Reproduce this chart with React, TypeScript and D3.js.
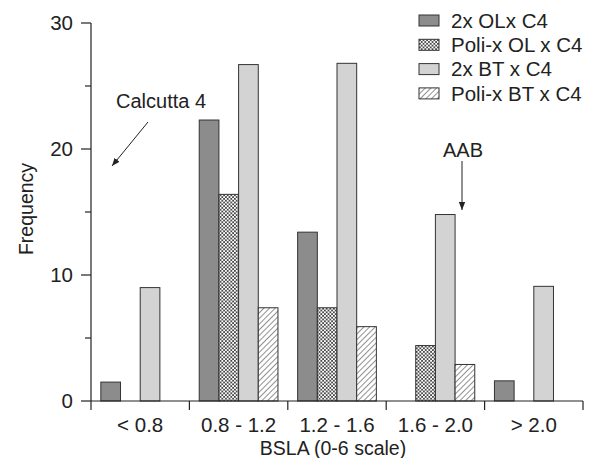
import React from 'react';
import * as d3 from 'd3';

// BSLA classes on the x axis
const categories = ['< 0.8', '0.8 - 1.2', '1.2 - 1.6', '1.6 - 2.0', '> 2.0'];
const seriesNames = ['2x OLx C4', 'Poli-x OL x C4', '2x BT x C4', 'Poli-x BT x C4'];

// frequencies, one array per cross
const olDiploid = [1.5, 22.3, 13.4, 0, 1.6];
const olPoly = [0, 16.4, 7.4, 4.4, 0];
const btDiploid = [9.0, 26.7, 26.8, 14.8, 9.1];
const btPoly = [0, 7.4, 5.9, 2.9, 0];

const yTicks = [0, 10, 20, 30];
const yMinor = [5, 15, 25];

const fills = ['#8c8c8c', 'url(#checks)', '#d3d3d3', 'url(#hatch)'];
const font = '"Liberation Sans", Arial, Helvetica, sans-serif';

export default function App() {
  const width = 593;
  const height = 458;
  const left = 91;
  const right = 583;
  const top = 23;
  const bottom = 401;

  const series = [olDiploid, olPoly, btDiploid, btPoly];

  const x = d3.scaleBand().domain(categories).range([left, right]);
  const inner = d3.scaleBand().domain(seriesNames.map((d, i) => String(i)))
    .range([0, x.bandwidth()]).paddingOuter(0.5).paddingInner(0);
  const y = d3.scaleLinear().domain([0, 30]).range([bottom, top]);

  const tickEdges = categories.map(c => x(c)).concat([right]);

  return (
    <svg width={width} height={height} style={{ position: 'absolute', left: 0, top: 0, background: '#fff' }}>
      <defs>
        <pattern id="checks" width="3.6" height="3.6" patternUnits="userSpaceOnUse">
          <rect width="3.6" height="3.6" fill="#fff" />
          <rect width="1.8" height="1.8" fill="#4a4a4a" />
          <rect x="1.8" y="1.8" width="1.8" height="1.8" fill="#4a4a4a" />
        </pattern>
        <pattern id="hatch" width="4" height="4" patternUnits="userSpaceOnUse" patternTransform="rotate(45)">
          <rect width="4" height="4" fill="#fff" />
          <line x1="0" y1="0" x2="0" y2="4" stroke="#555" strokeWidth="1.3" />
        </pattern>
        <marker id="arrow" viewBox="0 0 10 10" refX="10" refY="5" markerWidth="8" markerHeight="8" orient="auto-start-reverse">
          <path d="M0,1 L10,5 L0,9 Z" fill="#222" />
        </marker>
      </defs>

      {/* bars */}
      {categories.map((c, ci) => (
        <g key={c}>
          {series.map((s, si) => {
            const v = s[ci];
            const bx = x(c) + inner(String(si));
            return (
              <rect key={si} x={bx} y={y(v)} width={inner.bandwidth()} height={bottom - y(v)}
                fill={fills[si]} stroke="#333" strokeWidth={v > 0 ? 1 : 0.6} />
            );
          })}
        </g>
      ))}

      {/* y axis */}
      <line x1={left} x2={left} y1={top} y2={bottom} stroke="#222" strokeWidth={1.2} />
      {yTicks.map(t => (
        <g key={t}>
          <line x1={left - 10} x2={left} y1={y(t)} y2={y(t)} stroke="#222" strokeWidth={1.2} />
          <text x={left - 18} y={y(t)} dy="0.36em" textAnchor="end" fontFamily={font} fontSize={20.5} fill="#222">{t}</text>
        </g>
      ))}
      {yMinor.map(t => (
        <line key={t} x1={left - 6} x2={left} y1={y(t)} y2={y(t)} stroke="#222" strokeWidth={1.2} />
      ))}

      {/* x axis */}
      <line x1={left} x2={right} y1={bottom} y2={bottom} stroke="#222" strokeWidth={1.2} />
      {tickEdges.map((t, i) => (
        <line key={i} x1={t} x2={t} y1={bottom} y2={bottom + 9} stroke="#222" strokeWidth={1.2} />
      ))}
      {categories.map(c => (
        <text key={c} x={x(c) + x.bandwidth() / 2} y={432} textAnchor="middle" fontFamily={font} fontSize={20.5} fill="#222">{c}</text>
      ))}

      <text x={333} y={455} textAnchor="middle" fontFamily={font} fontSize={19.5} fill="#222">BSLA (0-6 scale)</text>
      <text transform="translate(33,209) rotate(-90)" textAnchor="middle" fontFamily={font} fontSize={19.5} fill="#222">Frequency</text>

      {/* legend */}
      {seriesNames.map((n, i) => (
        <g key={n} transform={`translate(419,${15 + i * 24.3})`}>
          <rect width={20} height={11} fill={fills[i]} stroke="#333" strokeWidth={1} />
          <text x={32} y={5.5} dy="0.36em" fontFamily={font} fontSize={20.5} fill="#222">{n}</text>
        </g>
      ))}

      {/* annotations */}
      <text x={116} y={108} fontFamily={font} fontSize={20} fill="#222">Calcutta 4</text>
      <line x1={148} y1={122} x2={112} y2={166} stroke="#222" strokeWidth={1} markerEnd="url(#arrow)" />
      <text x={463} y={157} textAnchor="middle" fontFamily={font} fontSize={20} fill="#222">AAB</text>
      <line x1={462} y1={161} x2={462} y2={210} stroke="#222" strokeWidth={1} markerEnd="url(#arrow)" />
    </svg>
  );
}
